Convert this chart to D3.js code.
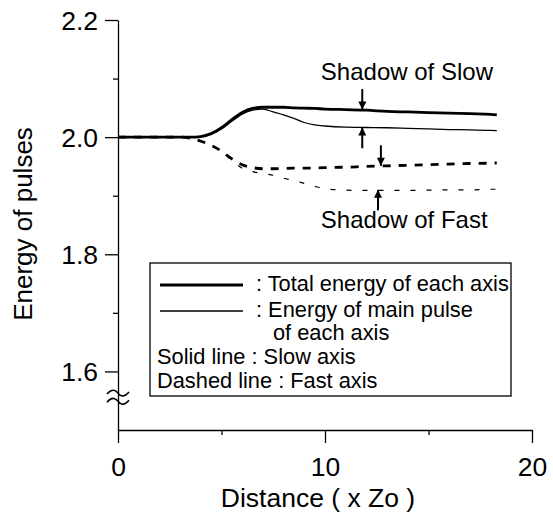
<!DOCTYPE html>
<html>
<head>
<meta charset="utf-8">
<script src="https://cdn.jsdelivr.net/npm/d3@7"></script>
<style>
  html, body { margin: 0; padding: 0; background: #fff; }
  svg { display: block; }
  text { font-family: "Liberation Sans", Arial, Helvetica, sans-serif; fill: #000; }
</style>
</head>
<body>
<svg id="chart" width="553" height="513"></svg>
<script>
// ---- data ----
const distance  = [0, 1, 2, 3, 3.5, 4, 4.5, 5, 5.5, 6, 6.5, 7, 7.5, 8, 8.5, 9, 9.5, 10, 11, 12, 13, 14, 15, 16, 17, 18, 18.3];
const totalSlow = [2.000, 2.000, 2.000, 2.000, 2.000, 2.001, 2.006, 2.016, 2.030, 2.042, 2.049, 2.051, 2.051, 2.051, 2.050, 2.0495, 2.049, 2.048, 2.047, 2.046, 2.044, 2.043, 2.042, 2.041, 2.040, 2.039, 2.038];
const mainSlow  = [2.000, 2.000, 2.000, 2.000, 2.000, 2.001, 2.005, 2.014, 2.027, 2.039, 2.046, 2.048, 2.043, 2.038, 2.032, 2.025, 2.021, 2.019, 2.017, 2.0165, 2.016, 2.015, 2.014, 2.013, 2.0125, 2.0115, 2.011];
const totalFast = [2.000, 2.000, 2.000, 2.000, 1.998, 1.993, 1.986, 1.976, 1.963, 1.953, 1.948, 1.946, 1.946, 1.9465, 1.947, 1.947, 1.9475, 1.948, 1.9487, 1.950, 1.951, 1.952, 1.953, 1.954, 1.955, 1.9556, 1.956];
const mainFast  = [2.000, 2.000, 2.000, 2.000, 1.998, 1.993, 1.986, 1.975, 1.960, 1.947, 1.941, 1.938, 1.935, 1.930, 1.926, 1.921, 1.916, 1.912, 1.9095, 1.909, 1.909, 1.909, 1.9095, 1.910, 1.910, 1.911, 1.911];

const xMajorTicks = [0, 10, 20];
const xMinorTicks = [5, 15];
const yMajorTicks = [1.6, 1.8, 2.0, 2.2];
const yMinorTicks = [1.7, 1.9, 2.1];
const yTickLabels = ["1.6", "1.8", "2.0", "2.2"];
const xTickLabels = ["0", "10", "20"];

const legendLines = [": Total energy of each axis", ": Energy of main pulse", "of each axis", "Solid line : Slow axis", "Dashed line : Fast axis"];

// arrows: [distance, tail value, head value]
const arrows = [
  [11.8, 2.082, 2.047],
  [11.8, 1.981, 2.0165],
  [12.7, 1.986, 1.951],
  [12.56, 1.875, 1.910]
];
const annotations = [
  {text: "Shadow of Slow", d: 9.8, v: 2.0975},
  {text: "Shadow of Fast", d: 9.8, v: 1.8445}
];
const axisBreak = [1.563, 1.549];

// ---- layout ----
const svg = d3.select("#chart");
const x = d3.scaleLinear().domain([0, 20]).range([118, 532]);
const y = d3.scaleLinear().domain([1.5, 2.2]).range([430, 20]);

// axes
const xAxis = svg.append("g").attr("transform", `translate(0,${y(1.5)})`)
  .call(d3.axisBottom(x).tickValues(xMajorTicks).tickSize(13).tickSizeOuter(0)
        .tickFormat((d, i) => xTickLabels[i]).tickPadding(14));
const xMinor = svg.append("g").attr("transform", `translate(0,${y(1.5)})`)
  .call(d3.axisBottom(x).tickValues(xMinorTicks).tickSize(5).tickSizeOuter(0).tickFormat(""));
xMinor.select(".domain").remove();

const yAxis = svg.append("g").attr("transform", `translate(${x(0)},0)`)
  .call(d3.axisLeft(y).tickValues(yMajorTicks).tickSize(13).tickSizeOuter(0)
        .tickFormat((d, i) => yTickLabels[i]).tickPadding(7));
const yMinor = svg.append("g").attr("transform", `translate(${x(0)},0)`)
  .call(d3.axisLeft(y).tickValues(yMinorTicks).tickSize(5).tickSizeOuter(0).tickFormat(""));
yMinor.select(".domain").remove();

svg.selectAll(".domain, .tick line").attr("stroke", "#000").attr("stroke-width", 1.3);
xAxis.selectAll(".tick text").attr("font-size", 26.5).attr("font-family", "Liberation Sans, Arial, sans-serif").attr("fill", "#000");
yAxis.selectAll(".tick text").attr("font-size", 26.5).attr("font-family", "Liberation Sans, Arial, sans-serif").attr("fill", "#000").attr("dy", "0.36em");

// axis break
axisBreak.forEach(v => {
  const yy = y(v), x0 = x(0);
  svg.append("path")
    .attr("d", `M${x0 - 11},${yy + 1} C${x0 - 6},${yy - 5} ${x0 - 2},${yy - 3} ${x0},${yy} S${x0 + 6},${yy + 5} ${x0 + 11},${yy - 1}`)
    .attr("fill", "none").attr("stroke", "#000").attr("stroke-width", 1.6);
});

// axis titles
svg.append("text").attr("x", 318).attr("y", 507).attr("text-anchor", "middle")
  .attr("font-size", 26.5).text("Distance ( x Zo )");
svg.append("text").attr("transform", `translate(32,224) rotate(-90)`).attr("text-anchor", "middle")
  .attr("font-size", 26).text("Energy of pulses");

// curves
const line = d3.line().x((d, i) => x(distance[i])).y(d => y(d)).curve(d3.curveMonotoneX);
const series = [
  {data: mainFast,  w: 1.2, dash: "5,11"},
  {data: totalFast, w: 2.8, dash: "8,8"},
  {data: mainSlow,  w: 1.3, dash: null},
  {data: totalSlow, w: 2.8, dash: null}
];
series.forEach(s => {
  svg.append("path").datum(s.data).attr("d", line)
    .attr("fill", "none").attr("stroke", "#000").attr("stroke-width", s.w)
    .attr("stroke-dasharray", s.dash);
});

// arrows
svg.append("defs").append("marker").attr("id", "head")
  .attr("viewBox", "0 0 10 10").attr("refX", 10).attr("refY", 5)
  .attr("markerWidth", 9).attr("markerHeight", 8).attr("markerUnits", "userSpaceOnUse")
  .attr("orient", "auto")
  .append("path").attr("d", "M0,0 L10,5 L0,10 Z").attr("fill", "#000");
arrows.forEach(a => {
  svg.append("line").attr("x1", x(a[0])).attr("x2", x(a[0]))
    .attr("y1", y(a[1])).attr("y2", y(a[2]))
    .attr("stroke", "#000").attr("stroke-width", 2).attr("marker-end", "url(#head)");
});

// annotations
annotations.forEach(a => {
  svg.append("text").attr("x", x(a.d)).attr("y", y(a.v)).attr("font-size", 24).text(a.text);
});

// legend
const lg = svg.append("g");
lg.append("rect").attr("x", 150).attr("y", 263).attr("width", 361).attr("height", 133)
  .attr("fill", "#fff").attr("stroke", "#000").attr("stroke-width", 1.3);
lg.append("line").attr("x1", 160).attr("x2", 243).attr("y1", 285).attr("y2", 285)
  .attr("stroke", "#000").attr("stroke-width", 2.8);
lg.append("line").attr("x1", 160).attr("x2", 243).attr("y1", 311).attr("y2", 311)
  .attr("stroke", "#000").attr("stroke-width", 1.3);
const lx = [256, 256, 273, 157, 157];
const ly = [291, 317, 340, 364, 388];
legendLines.forEach((t, i) => {
  lg.append("text").attr("x", lx[i]).attr("y", ly[i]).attr("font-size", 21.8).text(t);
});
</script>
</body>
</html>
